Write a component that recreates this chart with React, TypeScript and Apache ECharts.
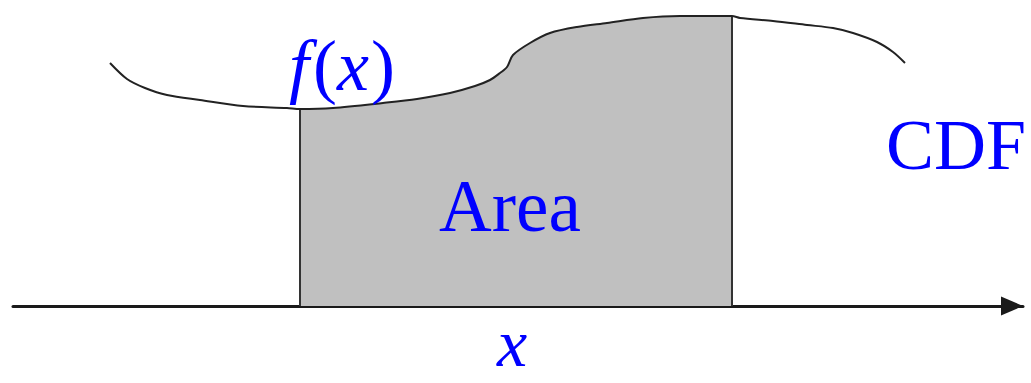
import React, { useEffect, useRef } from "react";
import * as echarts from "echarts";

const curveX = [110, 127, 145, 167, 200, 243, 287, 300, 333, 383, 417, 450, 475, 490, 500, 507, 513, 530, 550, 577, 607, 643, 680, 710, 732, 740, 773, 807, 833, 853, 877, 893, 905];
const curveY = [243, 227, 218, 211, 206, 200, 198, 197, 198, 203, 207, 213, 220, 226, 233, 239, 251, 263, 273, 279, 283, 288, 290, 290, 290, 288, 285, 281, 278, 273, 264, 254, 243];

// Integration bounds
const lowerBound = 300;
const upperBound = 732;

const labels = { fx: "{f|f}{p|(}{x|x}{p|)}", area: "Area", cdf: "CDF", x: "x" };

export default function App() {
  const ref = useRef<HTMLDivElement>(null);
  useEffect(() => {
    if (!ref.current) return;
    const chart = echarts.init(ref.current, undefined, { renderer: "svg" });
    const curve = curveX.map((x, i) => [x, curveY[i]]);
    const shaded = curve.filter((p) => p[0] >= lowerBound && p[0] <= upperBound);
    const yAt = (x: number) => curve.find((p) => p[0] === x)![1];
    const serif = "Liberation Serif";
    const blue = "#0000ff";
    chart.setOption({
      animation: false,
      backgroundColor: "#ffffff",
      grid: { left: 13, right: 8, top: 0, bottom: 77 },
      xAxis: {
        type: "value",
        min: 13,
        max: 1023,
        axisLine: {
          show: true,
          onZero: false,
          lineStyle: { color: "#1a1a1a", width: 3 },
          symbol: ["none", "triangle"],
          symbolSize: [19, 22],
          symbolOffset: [0, -11],
        },
        axisTick: { show: false },
        axisLabel: { show: false },
        splitLine: { show: false },
      },
      yAxis: {
        type: "value",
        min: 0,
        max: 306,
        show: false,
        splitLine: { show: false },
      },
      series: [
        {
          type: "line",
          data: shaded,
          smooth: 0.3,
          symbol: "none",
          lineStyle: { width: 0 },
          areaStyle: { color: "#c0c0c0", opacity: 1 },
          z: 1,
        },
        {
          type: "line",
          data: [[lowerBound, 0], [lowerBound, yAt(lowerBound)]],
          symbol: "none",
          lineStyle: { color: "#333333", width: 2 },
          z: 2,
        },
        {
          type: "line",
          data: [[upperBound, 0], [upperBound, yAt(upperBound)]],
          symbol: "none",
          lineStyle: { color: "#333333", width: 2 },
          z: 2,
        },
        {
          type: "line",
          data: curve,
          smooth: 0.3,
          symbol: "none",
          lineStyle: { color: "#222222", width: 2 },
          z: 3,
        },
      ],
      graphic: [
        {
          type: "text",
          x: 342,
          y: 66,
          z: 10,
          style: {
            text: labels.fx,
            fill: blue,
            fontFamily: serif,
            fontSize: 72,
            align: "center",
            verticalAlign: "middle",
            rich: {
              f: { fontStyle: "italic", fontFamily: serif, fontSize: 72, fill: blue, padding: [0, 4, 0, 0] },
              x: { fontStyle: "italic", fontFamily: serif, fontSize: 72, fill: blue, padding: [0, 2, 0, 0] },
              p: { fontStyle: "normal", fontFamily: serif, fontSize: 72, fill: blue },
            },
          },
        },
        {
          type: "text",
          x: 510,
          y: 206,
          z: 10,
          style: { text: labels.area, fill: blue, fontFamily: serif, fontSize: 73, align: "center", verticalAlign: "middle" },
        },
        {
          type: "text",
          x: 886,
          y: 145,
          z: 10,
          style: { text: labels.cdf, fill: blue, fontFamily: serif, fontSize: 72, align: "left", verticalAlign: "middle" },
        },
        {
          type: "text",
          x: 512,
          y: 343,
          z: 10,
          style: { text: labels.x, fill: blue, fontFamily: serif, fontSize: 68, fontStyle: "italic", align: "center", verticalAlign: "middle" },
        },
      ],
    });
    return () => chart.dispose();
  }, []);
  return <div ref={ref} style={{ position: "fixed", left: 0, top: 0, width: 1031, height: 383 }} />;
}
